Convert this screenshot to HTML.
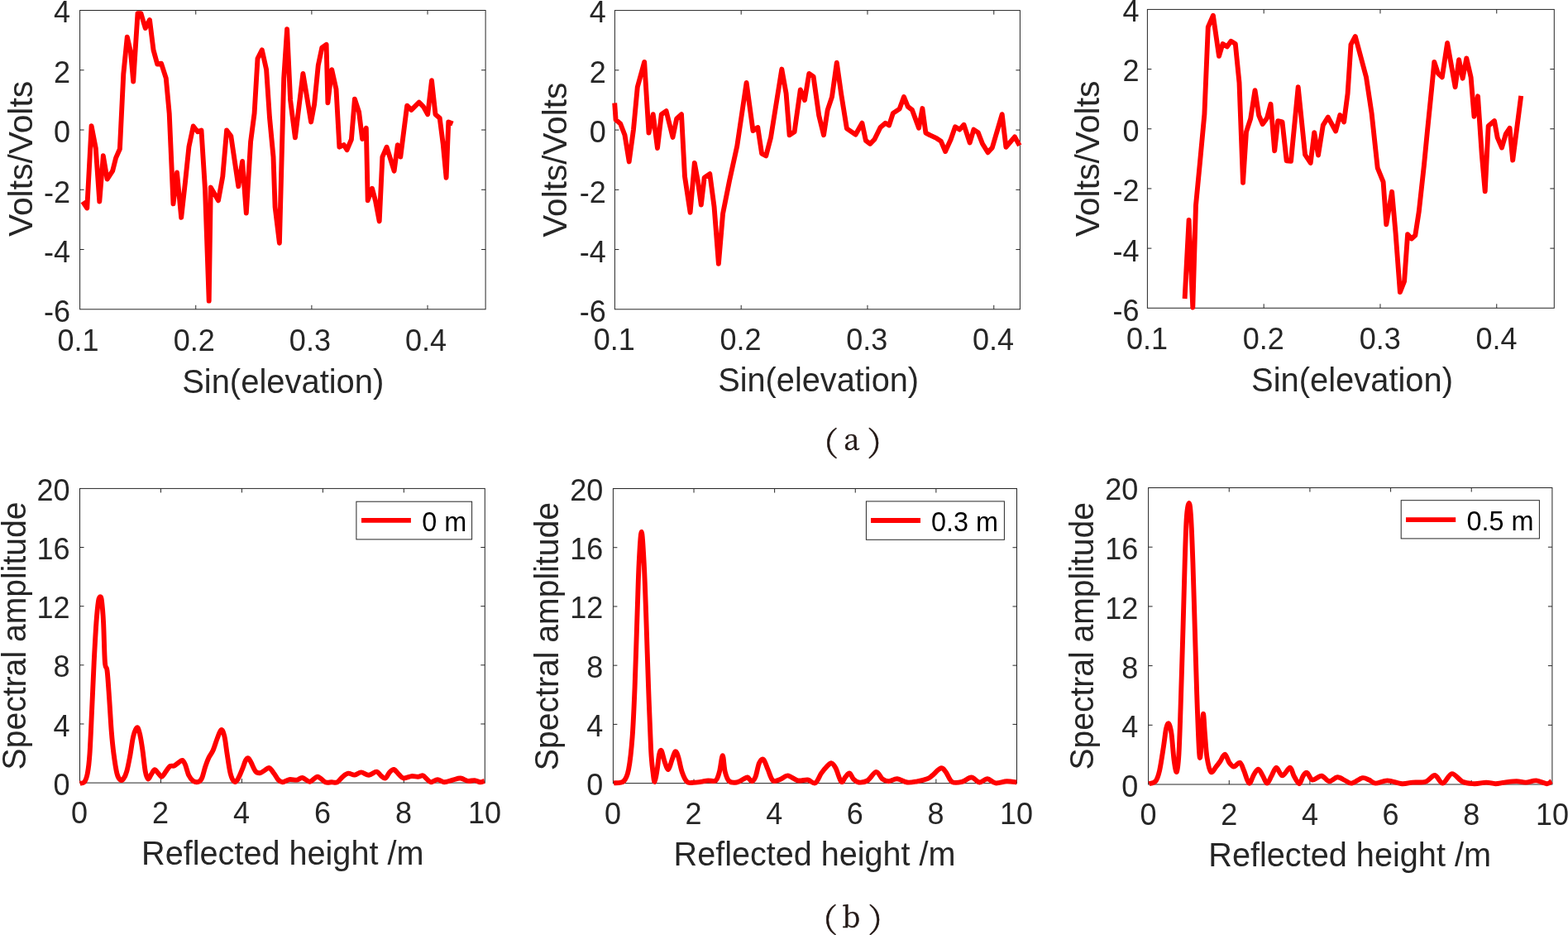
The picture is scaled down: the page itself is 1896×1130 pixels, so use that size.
<!DOCTYPE html>
<html><head><meta charset="utf-8"><title>Figure</title>
<style>
html,body{margin:0;padding:0;background:#fff;}
body{width:1896px;height:1130px;overflow:hidden;}
svg{display:block;}
text{font-family:"Liberation Sans",sans-serif;}
.tk{font-size:36px;fill:#262626;}
.lb{font-size:40px;fill:#262626;}
.lg{font-size:32.4px;fill:#000;}
.cap{font-family:"Liberation Serif","Noto Serif CJK SC",serif;fill:#231815;stroke:#231815;stroke-width:0.5px;}
.capl{font-family:"Noto Serif CJK SC","Liberation Serif",serif;}
</style></head><body>
<svg width="1896" height="1130" viewBox="0 0 1896 1130">
<rect width="1896" height="1130" fill="#fff"/>
<g>
<path d="M236.74 373.8V368.8M236.74 12.5V17.5M376.89 373.8V368.8M376.89 12.5V17.5M517.03 373.8V368.8M517.03 12.5V17.5M96.6 301.54H101.6M587.1 301.54H582.1M96.6 229.28H101.6M587.1 229.28H582.1M96.6 157.02H101.6M587.1 157.02H582.1M96.6 84.76H101.6M587.1 84.76H582.1" stroke="#262626" stroke-width="1" fill="none"/>
<rect x="96.6" y="12.5" width="490.5" height="361.3" fill="none" stroke="#262626" stroke-width="1"/>
<path d="M100 243.6 L105.3 251.5 L110.6 152.2 L115.8 179.1 L120.3 243.6 L124.8 188.3 L129.6 216.5 L136.1 206.7 L140.1 190.9 L144.9 180 L149.3 89.4 L153.8 44.6 L158 63 L161.2 98.6 L166.5 16.1 L170.4 16.1 L175.7 34 L181 24 L185.5 60.4 L190.2 77.5 L195 76.7 L200.8 94.7 L204.7 136.9 L209.5 246.3 L214 208.5 L219.2 262.9 L224 220 L228.4 177.7 L233.7 152.5 L239 159.3 L243.5 157.6 L248 229 L252.7 363.6 L254.8 226.5 L264 242.3 L269.3 213.3 L274.1 157.4 L279.3 164.5 L288.3 225.2 L293.1 194.9 L297.8 257.6 L303.1 171.1 L307.6 136.9 L311.5 70.9 L316.8 60.4 L322.1 84.1 L326 142.1 L330.5 189.6 L332.6 250.2 L337.9 293.7 L343.2 94.7 L347.1 35.3 L351.1 121 L356.9 166.4 L366.4 88.9 L370.9 115.8 L376.1 147.4 L380.1 126.3 L384.8 78.8 L389.3 57.7 L394.6 53.8 L396.4 124.2 L401.2 84.1 L406.5 107.8 L410.4 177.7 L415.7 175.1 L419.6 181.2 L424.9 168.5 L428.9 119.7 L434.1 135.5 L438.1 168 L442.8 154.8 L444.7 242.3 L450 227.8 L453.9 242.3 L458.7 267.4 L462.4 189.6 L467.6 177.7 L476.6 206.7 L480.8 175.1 L484.3 189.6 L492.2 127.6 L497.4 132.9 L506.7 123.7 L511.9 128.9 L517.2 138.2 L522 97.3 L526.5 138.2 L531.7 142.7 L535.7 173.8 L539.6 214.7 L542.3 147.4 L547.5 149.5" stroke="#ff0000" stroke-width="5.9" fill="none" stroke-linejoin="round" stroke-linecap="butt"/>
<text class="tk" x="94.6" y="423.9" text-anchor="middle">0.1</text>
<text class="tk" x="234.74" y="423.9" text-anchor="middle">0.2</text>
<text class="tk" x="374.89" y="423.9" text-anchor="middle">0.3</text>
<text class="tk" x="515.03" y="423.9" text-anchor="middle">0.4</text>
<text class="tk" x="85.1" y="389.45" text-anchor="end">-6</text>
<text class="tk" x="85.1" y="316.98" text-anchor="end">-4</text>
<text class="tk" x="85.1" y="244.51" text-anchor="end">-2</text>
<text class="tk" x="85.1" y="172.04" text-anchor="end">0</text>
<text class="tk" x="85.1" y="99.57" text-anchor="end">2</text>
<text class="tk" x="85.1" y="27.1" text-anchor="end">4</text>
<text id="xl1" class="lb" x="342.25" y="474.5" text-anchor="middle" textLength="244.17" lengthAdjust="spacingAndGlyphs">Sin(elevation)</text>
<text id="yl1" class="lb" x="0" y="0" text-anchor="middle" transform="translate(39.2 191.95) rotate(-90)" textLength="188.21" lengthAdjust="spacingAndGlyphs">Volts/Volts</text>
</g>
<g>
<path d="M896.19 373.8V368.8M896.19 12.6V17.6M1048.98 373.8V368.8M1048.98 12.6V17.6M1201.77 373.8V368.8M1201.77 12.6V17.6M743.4 301.56H748.4M1233.4 301.56H1228.4M743.4 229.32H748.4M1233.4 229.32H1228.4M743.4 157.08H748.4M1233.4 157.08H1228.4M743.4 84.84H748.4M1233.4 84.84H1228.4" stroke="#262626" stroke-width="1" fill="none"/>
<rect x="743.4" y="12.6" width="490" height="361.2" fill="none" stroke="#262626" stroke-width="1"/>
<path d="M743.2 124.5 L744.6 144.8 L750.2 149.5 L755.5 163.2 L760.7 195.4 L766 156.6 L770.8 105.2 L779.2 74.9 L784.5 160.6 L789.7 138.2 L795 179 L799.8 138.2 L805.6 134.2 L813.5 165.9 L818.2 143.4 L824 138.2 L828 213.3 L834.6 256.8 L839.8 196.9 L843.8 218.6 L847.8 247.6 L851.7 214.6 L858.3 210.1 L863.6 250.2 L868.9 318.8 L874.1 258.1 L882 218.6 L891.3 176.4 L902.6 99.9 L910.5 158 L916.3 154 L921.1 185.6 L926.3 188.3 L932.1 165.9 L945.3 83.6 L950.6 113.1 L954.6 163.2 L960.6 159.3 L967.8 108.4 L973 121 L978.3 88.9 L983.6 92.6 L990.2 139.5 L996 163.2 L1000.7 132.9 L1006 117.1 L1011.8 75.7 L1017.1 113.1 L1023.9 155.3 L1034.5 162.7 L1042.4 148.7 L1046.9 169.8 L1052.1 173.8 L1057.4 168.5 L1064.5 154 L1070.6 148.7 L1075.1 151.4 L1079.8 136.9 L1087.7 131.6 L1093 117.1 L1097.8 128.9 L1103 132.9 L1111 154.8 L1115.4 131.1 L1119.4 160.6 L1124.1 163.2 L1132.6 167.2 L1137.8 170.6 L1143.1 183 L1149.7 168.5 L1155 153.2 L1160.3 156.6 L1165.5 150.8 L1172.7 172.5 L1177.4 156.6 L1182.7 160.1 L1188 173.8 L1194.5 184.3 L1199.8 178.5 L1211.7 138.2 L1216.4 177.7 L1220.9 172.5 L1227 165.3 L1232.8 175.9" stroke="#ff0000" stroke-width="5.9" fill="none" stroke-linejoin="round" stroke-linecap="butt"/>
<text class="tk" x="742.7" y="423.4" text-anchor="middle">0.1</text>
<text class="tk" x="895.49" y="423.4" text-anchor="middle">0.2</text>
<text class="tk" x="1048.28" y="423.4" text-anchor="middle">0.3</text>
<text class="tk" x="1201.07" y="423.4" text-anchor="middle">0.4</text>
<text class="tk" x="732.8" y="389.45" text-anchor="end">-6</text>
<text class="tk" x="732.8" y="316.98" text-anchor="end">-4</text>
<text class="tk" x="732.8" y="244.51" text-anchor="end">-2</text>
<text class="tk" x="732.8" y="172.04" text-anchor="end">0</text>
<text class="tk" x="732.8" y="99.57" text-anchor="end">2</text>
<text class="tk" x="732.8" y="27.1" text-anchor="end">4</text>
<text id="xl2" class="lb" x="989.6" y="473.4" text-anchor="middle" textLength="242.94" lengthAdjust="spacingAndGlyphs">Sin(elevation)</text>
<text id="yl2" class="lb" x="0" y="0" text-anchor="middle" transform="translate(685.1 193.2) rotate(-90)" textLength="187" lengthAdjust="spacingAndGlyphs">Volts/Volts</text>
</g>
<g>
<path d="M1528.18 372.3V367.3M1528.18 11.4V16.4M1668.97 372.3V367.3M1668.97 11.4V16.4M1809.75 372.3V367.3M1809.75 11.4V16.4M1387.4 300.12H1392.4M1879.3 300.12H1874.3M1387.4 227.94H1392.4M1879.3 227.94H1874.3M1387.4 155.76H1392.4M1879.3 155.76H1874.3M1387.4 83.58H1392.4M1879.3 83.58H1874.3" stroke="#262626" stroke-width="1" fill="none"/>
<rect x="1387.4" y="11.4" width="491.9" height="360.9" fill="none" stroke="#262626" stroke-width="1"/>
<path d="M1432.6 361 L1437.6 266 L1442.3 371.5 L1446 248 L1451 196 L1456.4 138 L1460.8 32.7 L1466.9 18.7 L1474 67.8 L1478.5 53 L1483.7 56.4 L1488.5 49.8 L1493.8 53 L1498.5 99.9 L1503 220.7 L1507 159.3 L1512.2 143.4 L1517.5 109.2 L1522.2 139.5 L1526.7 150 L1532 142.7 L1536.5 125.8 L1541.2 182.2 L1545.2 146.1 L1550.5 147.4 L1555.7 194.3 L1561 194.9 L1569.7 105.2 L1578.1 187 L1584.7 197 L1589.2 160.1 L1594 187.5 L1599.8 151.4 L1605.8 141.6 L1615.1 158.5 L1620.3 139 L1625.1 147.4 L1629.6 113.1 L1633.5 53.8 L1638.8 44 L1652 93.3 L1658.6 136.9 L1665.7 202.8 L1672.6 219.9 L1676.3 271.3 L1683.1 231.8 L1687.6 281.9 L1692.9 353.1 L1698.1 339.9 L1702.1 283.2 L1706.8 288.4 L1711.3 284.5 L1715.8 255.5 L1721.9 200 L1725.8 160 L1731.1 107.8 L1734.3 74.9 L1739 88.9 L1743.8 93.3 L1750.1 51.9 L1759.6 105.2 L1764.1 72.2 L1768.6 94.7 L1773.3 70.4 L1778.6 93.3 L1782.5 140.8 L1787 116.3 L1791.8 187 L1795.7 231.3 L1799.7 152.2 L1807 146.1 L1810.7 166.4 L1816 178.5 L1820.8 161.9 L1825.5 154.8 L1829.2 193.6 L1839.2 115.8" stroke="#ff0000" stroke-width="5.9" fill="none" stroke-linejoin="round" stroke-linecap="butt"/>
<text class="tk" x="1387.1" y="422.2" text-anchor="middle">0.1</text>
<text class="tk" x="1527.88" y="422.2" text-anchor="middle">0.2</text>
<text class="tk" x="1668.67" y="422.2" text-anchor="middle">0.3</text>
<text class="tk" x="1809.45" y="422.2" text-anchor="middle">0.4</text>
<text class="tk" x="1377.5" y="388.25" text-anchor="end">-6</text>
<text class="tk" x="1377.5" y="315.72" text-anchor="end">-4</text>
<text class="tk" x="1377.5" y="243.19" text-anchor="end">-2</text>
<text class="tk" x="1377.5" y="170.66" text-anchor="end">0</text>
<text class="tk" x="1377.5" y="98.13" text-anchor="end">2</text>
<text class="tk" x="1377.5" y="25.6" text-anchor="end">4</text>
<text id="xl3" class="lb" x="1635.05" y="472.9" text-anchor="middle" textLength="243.96" lengthAdjust="spacingAndGlyphs">Sin(elevation)</text>
<text id="yl3" class="lb" x="0" y="0" text-anchor="middle" transform="translate(1328.9 191.85) rotate(-90)" textLength="188.6" lengthAdjust="spacingAndGlyphs">Volts/Volts</text>
</g>
<g>
<path d="M194.46 946.1V941.1M194.46 590.4V595.4M292.42 946.1V941.1M292.42 590.4V595.4M390.38 946.1V941.1M390.38 590.4V595.4M488.34 946.1V941.1M488.34 590.4V595.4M96.5 874.96H101.5M586.3 874.96H581.3M96.5 803.82H101.5M586.3 803.82H581.3M96.5 732.68H101.5M586.3 732.68H581.3M96.5 661.54H101.5M586.3 661.54H581.3" stroke="#262626" stroke-width="1" fill="none"/>
<rect x="96.5" y="590.4" width="489.8" height="355.7" fill="none" stroke="#262626" stroke-width="1"/>
<path d="M96.6 946.6 C97.48 946.38 100.37 947.28 101.9 945.3 C103.43 943.32 104.7 940.42 105.8 934.7 C106.9 928.98 107.62 923.75 108.5 911 C109.38 898.25 110.23 876.67 111.1 858.2 C111.97 839.73 112.82 817.78 113.7 800.2 C114.58 782.62 115.52 765 116.4 752.7 C117.28 740.4 118.22 731.67 119 726.4 C119.78 721.13 120.43 721.1 121.1 721.1 C121.77 721.1 122.33 721.13 123 726.4 C123.67 731.67 124.45 740.4 125.1 752.7 C125.75 765 126.15 790.52 126.9 800.2 C127.65 809.88 128.72 803.33 129.6 810.8 C130.48 818.27 131.33 832.7 132.2 845 C133.07 857.3 133.92 873.6 134.8 884.6 C135.68 895.6 136.4 902.65 137.5 911 C138.6 919.35 140.08 929.43 141.4 934.7 C142.72 939.97 144.08 941.5 145.4 942.6 C146.72 943.7 147.98 943.05 149.3 941.3 C150.62 939.55 151.98 936.72 153.3 932.1 C154.62 927.48 155.88 920.63 157.2 913.6 C158.52 906.57 159.78 895.62 161.2 889.9 C162.62 884.18 164.38 879.75 165.7 879.3 C167.02 878.85 168 882.8 169.1 887.2 C170.2 891.6 171.2 898.22 172.3 905.7 C173.4 913.18 174.57 926.17 175.7 932.1 C176.83 938.03 177.92 940.65 179.1 941.3 C180.28 941.95 181.48 937.85 182.8 936 C184.12 934.15 185.55 930.42 187 930.2 C188.45 929.98 190.08 933.28 191.5 934.7 C192.92 936.12 193.95 939.13 195.5 938.7 C197.05 938.27 199.13 934.22 200.8 932.1 C202.47 929.98 203.83 927.1 205.5 926 C207.17 924.9 209.03 926.25 210.8 925.5 C212.57 924.75 214.48 922.6 216.1 921.5 C217.72 920.4 219.18 918.45 220.5 918.9 C221.82 919.35 222.68 921.13 224 924.2 C225.32 927.27 226.78 934.02 228.4 937.3 C230.02 940.58 231.72 942.67 233.7 943.9 C235.68 945.13 238.53 945.35 240.3 944.7 C242.07 944.05 242.98 942.98 244.3 940 C245.62 937.02 246.88 930.77 248.2 926.8 C249.52 922.83 250.65 919.5 252.2 916.2 C253.75 912.9 255.75 910.95 257.5 907 C259.25 903.05 261.03 896.67 262.7 892.5 C264.37 888.33 266.05 882.43 267.5 882 C268.95 881.57 270.22 885.07 271.4 889.9 C272.58 894.73 273.4 903.53 274.6 911 C275.8 918.47 277.15 929.08 278.6 934.7 C280.05 940.32 281.77 943.6 283.3 944.7 C284.83 945.8 286.17 943.85 287.8 941.3 C289.43 938.75 291.57 933.13 293.1 929.4 C294.63 925.67 295.82 921.1 297 918.9 C298.18 916.7 299.1 915.77 300.2 916.2 C301.3 916.63 302.15 918.85 303.6 921.5 C305.05 924.15 307.13 929.98 308.9 932.1 C310.67 934.22 312.45 934.3 314.2 934.2 C315.95 934.1 317.52 932.52 319.4 931.5 C321.28 930.48 323.52 927.57 325.5 928.1 C327.48 928.63 329.45 932.28 331.3 934.7 C333.15 937.12 334.85 940.83 336.6 942.6 C338.35 944.37 339.6 945.38 341.8 945.3 C344 945.22 346.93 942.55 349.8 942.1 C352.67 941.65 356.37 942.95 359 942.6 C361.63 942.25 362.97 939.65 365.6 940 C368.23 940.35 371.73 944.92 374.8 944.7 C377.87 944.48 380.92 938.6 384 938.7 C387.08 938.8 390.43 944.2 393.3 945.3 C396.17 946.4 398.78 945.3 401.2 945.3 C403.62 945.3 405.6 946.4 407.8 945.3 C410 944.2 412.2 940.47 414.4 938.7 C416.6 936.93 418.58 935.05 421 934.7 C423.42 934.35 426.27 936.82 428.9 936.6 C431.53 936.38 433.95 933.37 436.8 933.4 C439.65 933.43 442.93 936.93 446 936.8 C449.07 936.67 452.78 932.52 455.2 932.6 C457.62 932.68 458.73 935.98 460.5 937.3 C462.27 938.62 464.03 941.15 465.8 940.5 C467.57 939.85 469.35 935.15 471.1 933.4 C472.85 931.65 474.42 929.57 476.3 930 C478.18 930.43 480.42 934.25 482.4 936 C484.38 937.75 485.7 940.15 488.2 940.5 C490.7 940.85 494.55 938.4 497.4 938.1 C500.25 937.8 502.97 938.83 505.3 938.7 C507.63 938.57 509.63 936.87 511.4 937.3 C513.17 937.73 514.27 939.97 515.9 941.3 C517.53 942.63 519 945.17 521.2 945.3 C523.4 945.43 526.47 942.1 529.1 942.1 C531.73 942.1 533.93 945.22 537 945.3 C540.07 945.38 544.2 943.4 547.5 942.6 C550.8 941.8 553.72 940.28 556.8 940.5 C559.88 940.72 563.15 943.47 566 943.9 C568.85 944.33 571.48 942.87 573.9 943.1 C576.32 943.33 578.52 945.17 580.5 945.3 C582.48 945.43 584.92 944.13 585.8 943.9" stroke="#ff0000" stroke-width="5.9" fill="none" stroke-linejoin="round" stroke-linecap="butt"/>
<text class="tk" x="96.1" y="994.6" text-anchor="middle">0</text>
<text class="tk" x="194.06" y="994.6" text-anchor="middle">2</text>
<text class="tk" x="292.02" y="994.6" text-anchor="middle">4</text>
<text class="tk" x="389.98" y="994.6" text-anchor="middle">6</text>
<text class="tk" x="487.94" y="994.6" text-anchor="middle">8</text>
<text class="tk" x="585.9" y="994.6" text-anchor="middle">10</text>
<text class="tk" x="84.6" y="960.75" text-anchor="end">0</text>
<text class="tk" x="84.6" y="889.62" text-anchor="end">4</text>
<text class="tk" x="84.6" y="818.49" text-anchor="end">8</text>
<text class="tk" x="84.6" y="747.36" text-anchor="end">12</text>
<text class="tk" x="84.6" y="676.23" text-anchor="end">16</text>
<text class="tk" x="84.6" y="605.1" text-anchor="end">20</text>
<text id="xl4" class="lb" x="341.8" y="1045.4" text-anchor="middle" textLength="341.39" lengthAdjust="spacingAndGlyphs">Reflected height /m</text>
<text id="yl4" class="lb" x="0" y="0" text-anchor="middle" transform="translate(30.6 768.45) rotate(-90)" textLength="324.03" lengthAdjust="spacingAndGlyphs">Spectral amplitude</text>
<rect x="430.9" y="606.2" width="139.7" height="45.7" fill="#fff" stroke="#262626" stroke-width="1"/>
<path d="M437 628.9H496.9" stroke="#ff0000" stroke-width="5.9"/>
<text class="lg" x="564.2" y="642.3" text-anchor="end">0 m</text>
</g>
<g>
<path d="M839.02 946.6V941.6M839.02 590.5V595.5M936.64 946.6V941.6M936.64 590.5V595.5M1034.26 946.6V941.6M1034.26 590.5V595.5M1131.88 946.6V941.6M1131.88 590.5V595.5M741.4 875.38H746.4M1229.5 875.38H1224.5M741.4 804.16H746.4M1229.5 804.16H1224.5M741.4 732.94H746.4M1229.5 732.94H1224.5M741.4 661.72H746.4M1229.5 661.72H1224.5" stroke="#262626" stroke-width="1" fill="none"/>
<rect x="741.4" y="590.5" width="488.1" height="356.1" fill="none" stroke="#262626" stroke-width="1"/>
<path d="M742 946.4 C744 946.05 750.98 947.05 754 944.3 C757.02 941.55 758.33 938.82 760.1 929.9 C761.87 920.98 763.35 907.35 764.6 890.8 C765.85 874.25 766.6 855.68 767.6 830.6 C768.6 805.52 769.75 765.37 770.6 740.3 C771.45 715.23 771.85 696.48 772.7 680.2 C773.55 663.92 774.7 642.6 775.7 642.6 C776.7 642.6 777.8 663.92 778.7 680.2 C779.6 696.48 780.2 715.23 781.1 740.3 C782 765.37 783.1 803.02 784.1 830.6 C785.1 858.18 786.2 888.75 787.1 905.8 C788 922.85 788.73 926.38 789.5 932.9 C790.27 939.42 790.83 945.4 791.7 944.9 C792.57 944.4 793.8 935.42 794.7 929.9 C795.6 924.38 796.25 915.57 797.1 911.8 C797.95 908.03 798.7 905.8 799.8 907.3 C800.9 908.8 802.3 917.03 803.7 920.8 C805.1 924.57 806.7 930.4 808.2 929.9 C809.7 929.4 811.3 921.42 812.7 917.8 C814.1 914.18 815.35 908.7 816.6 908.2 C817.85 907.7 818.85 910.68 820.2 914.8 C821.55 918.92 822.93 927.88 824.7 932.9 C826.47 937.92 828.53 942.75 830.8 944.9 C833.07 947.05 835.55 945.8 838.3 945.8 C841.05 945.8 844.3 945.3 847.3 944.9 C850.3 944.5 853.28 943.65 856.3 943.4 C859.32 943.15 863.13 945.15 865.4 943.4 C867.67 941.65 868.5 937.92 869.9 932.9 C871.3 927.88 872.65 913.3 873.8 913.3 C874.95 913.3 875.45 927.73 876.8 932.9 C878.15 938.07 879.55 942.2 881.9 944.3 C884.25 946.4 888.13 945.9 890.9 945.5 C893.67 945.1 896.33 942.9 898.5 941.9 C900.67 940.9 902.15 939.1 903.9 939.5 C905.65 939.9 907.4 944.4 909 944.3 C910.6 944.2 912 942.57 913.5 938.9 C915 935.23 916.4 925.82 918 922.3 C919.6 918.78 921.35 916.53 923.1 917.8 C924.85 919.07 926.58 925.63 928.5 929.9 C930.42 934.17 932.08 941.4 934.6 943.4 C937.12 945.4 940.6 942.9 943.6 941.9 C946.6 940.9 949.1 937.15 952.6 937.4 C956.1 937.65 960.58 942.55 964.6 943.4 C968.62 944.25 973.18 942 976.7 942.5 C980.22 943 982.95 947.75 985.7 946.4 C988.45 945.05 990.85 937.75 993.2 934.4 C995.55 931.05 997.77 928.32 999.8 926.3 C1001.83 924.28 1003.6 921.95 1005.4 922.3 C1007.2 922.65 1008.63 924.65 1010.6 928.4 C1012.57 932.15 1015.23 943.05 1017.2 944.8 C1019.17 946.55 1020.72 940.6 1022.4 938.9 C1024.08 937.2 1025.65 934.1 1027.3 934.6 C1028.95 935.1 1030.47 940.08 1032.3 941.9 C1034.13 943.72 1035.53 945.25 1038.3 945.5 C1041.07 945.75 1045.38 945.5 1048.9 943.4 C1052.42 941.3 1056.4 933.25 1059.4 932.9 C1062.4 932.55 1064.4 939.4 1066.9 941.3 C1069.4 943.2 1071.4 944.3 1074.4 944.3 C1077.4 944.3 1081.13 941.1 1084.9 941.3 C1088.67 941.5 1092.98 945 1097 945.5 C1101.02 946 1104.98 945 1109 944.3 C1113.02 943.6 1118.08 942.45 1121.1 941.3 C1124.12 940.15 1124.35 939.55 1127.1 937.4 C1129.85 935.25 1134.85 929.15 1137.6 928.4 C1140.35 927.65 1141.33 930.15 1143.6 932.9 C1145.87 935.65 1147.93 942.9 1151.2 944.9 C1154.47 946.9 1159.3 945.8 1163.2 944.9 C1167.1 944 1171.08 939.4 1174.6 939.5 C1178.12 939.6 1181.08 945.2 1184.3 945.5 C1187.52 945.8 1190.65 941.15 1193.9 941.3 C1197.15 941.45 1199.9 945.9 1203.8 946.4 C1207.7 946.9 1213.03 944.45 1217.3 944.3 C1221.57 944.15 1227.38 945.3 1229.4 945.5" stroke="#ff0000" stroke-width="5.9" fill="none" stroke-linejoin="round" stroke-linecap="butt"/>
<text class="tk" x="741" y="996.2" text-anchor="middle">0</text>
<text class="tk" x="838.62" y="996.2" text-anchor="middle">2</text>
<text class="tk" x="936.24" y="996.2" text-anchor="middle">4</text>
<text class="tk" x="1033.86" y="996.2" text-anchor="middle">6</text>
<text class="tk" x="1131.48" y="996.2" text-anchor="middle">8</text>
<text class="tk" x="1229.1" y="996.2" text-anchor="middle">10</text>
<text class="tk" x="729.4" y="961.1" text-anchor="end">0</text>
<text class="tk" x="729.4" y="889.88" text-anchor="end">4</text>
<text class="tk" x="729.4" y="818.66" text-anchor="end">8</text>
<text class="tk" x="729.4" y="747.44" text-anchor="end">12</text>
<text class="tk" x="729.4" y="676.22" text-anchor="end">16</text>
<text class="tk" x="729.4" y="605" text-anchor="end">20</text>
<text id="xl5" class="lb" x="985.05" y="1045.8" text-anchor="middle" textLength="340.97" lengthAdjust="spacingAndGlyphs">Reflected height /m</text>
<text id="yl5" class="lb" x="0" y="0" text-anchor="middle" transform="translate(675.1 769.05) rotate(-90)" textLength="324.2" lengthAdjust="spacingAndGlyphs">Spectral amplitude</text>
<rect x="1047.4" y="605.9" width="167" height="46.4" fill="#fff" stroke="#262626" stroke-width="1"/>
<path d="M1053 629H1113" stroke="#ff0000" stroke-width="5.9"/>
<text class="lg" x="1207.1" y="642.4" text-anchor="end">0.3 m</text>
</g>
<g>
<path d="M1486.26 948V943M1486.26 589.5V594.5M1583.92 948V943M1583.92 589.5V594.5M1681.58 948V943M1681.58 589.5V594.5M1779.24 948V943M1779.24 589.5V594.5M1388.6 876.3H1393.6M1876.9 876.3H1871.9M1388.6 804.6H1393.6M1876.9 804.6H1871.9M1388.6 732.9H1393.6M1876.9 732.9H1871.9M1388.6 661.2H1393.6M1876.9 661.2H1871.9" stroke="#262626" stroke-width="1" fill="none"/>
<rect x="1388.6" y="589.5" width="488.3" height="358.5" fill="none" stroke="#262626" stroke-width="1"/>
<path d="M1389.4 947.2 C1390.72 946.68 1395.18 946.75 1397.3 944.1 C1399.42 941.45 1400.5 938.22 1402.1 931.3 C1403.7 924.38 1405.57 911.1 1406.9 902.6 C1408.23 894.1 1409.03 884.97 1410.1 880.3 C1411.17 875.63 1412.23 873.53 1413.3 874.6 C1414.37 875.67 1415.45 879.37 1416.5 886.7 C1417.55 894.03 1418.55 910.9 1419.6 918.6 C1420.65 926.3 1421.83 933.97 1422.8 932.9 C1423.77 931.83 1424.6 925.2 1425.4 912.2 C1426.2 899.2 1426.75 880.38 1427.6 854.9 C1428.45 829.42 1429.65 788.52 1430.5 759.3 C1431.35 730.08 1431.98 701.9 1432.7 679.6 C1433.42 657.3 1433.95 637.43 1434.8 625.5 C1435.65 613.57 1436.92 608 1437.8 608 C1438.68 608 1439.33 613.57 1440.1 625.5 C1440.87 637.43 1441.62 657.3 1442.4 679.6 C1443.18 701.9 1444 732.75 1444.8 759.3 C1445.6 785.85 1446.35 814.48 1447.2 838.9 C1448.05 863.32 1449.18 893.32 1449.9 905.8 C1450.62 918.28 1450.97 916.98 1451.5 913.8 C1452.03 910.62 1452.52 895.2 1453.1 886.7 C1453.68 878.2 1454.37 862.8 1455 862.8 C1455.63 862.8 1456.15 877.93 1456.9 886.7 C1457.65 895.47 1458.28 907.7 1459.5 915.4 C1460.72 923.1 1462.35 931.05 1464.2 932.9 C1466.05 934.75 1468.73 928.62 1470.6 926.5 C1472.47 924.38 1473.65 922.68 1475.4 920.2 C1477.15 917.72 1479.25 911.33 1481.1 911.6 C1482.95 911.87 1484.7 919.32 1486.5 921.8 C1488.3 924.28 1489.77 926.5 1491.9 926.5 C1494.03 926.5 1497.27 921 1499.3 921.8 C1501.33 922.6 1502.25 927.17 1504.1 931.3 C1505.95 935.43 1508.38 945.8 1510.4 946.6 C1512.42 947.4 1514.33 938.92 1516.2 936.1 C1518.07 933.28 1519.8 929.43 1521.6 929.7 C1523.4 929.97 1525.25 934.88 1527 937.7 C1528.75 940.52 1530.35 946.6 1532.1 946.6 C1533.85 946.6 1535.62 940.83 1537.5 937.7 C1539.38 934.57 1541.22 927.85 1543.4 927.8 C1545.58 927.75 1547.87 937.4 1550.6 937.4 C1553.33 937.4 1557.47 927.75 1559.8 927.8 C1562.13 927.85 1562.73 934.47 1564.6 937.7 C1566.47 940.93 1569.15 947.2 1571 947.2 C1572.85 947.2 1574.12 939.92 1575.7 937.7 C1577.28 935.48 1578.63 933.1 1580.5 933.9 C1582.37 934.7 1583.98 941.87 1586.9 942.5 C1589.82 943.13 1594.62 937.42 1598 937.7 C1601.38 937.98 1604 943.93 1607.2 944.2 C1610.4 944.47 1613.95 939.43 1617.2 939.3 C1620.45 939.17 1623.78 942.18 1626.7 943.4 C1629.62 944.62 1631.25 947.13 1634.7 946.6 C1638.15 946.07 1643.95 940.88 1647.4 940.2 C1650.85 939.52 1652.75 941.43 1655.4 942.5 C1658.05 943.57 1659.58 946.45 1663.3 946.6 C1667.02 946.75 1672.38 943.3 1677.7 943.4 C1683.02 943.5 1690.15 946.83 1695.2 947.2 C1700.25 947.57 1703.22 946.02 1708 945.6 C1712.78 945.18 1719.4 946.13 1723.9 944.7 C1728.4 943.27 1731.55 936.68 1735 937 C1738.45 937.32 1741.15 946.92 1744.6 946.6 C1748.05 946.28 1751.72 935.42 1755.7 935.1 C1759.68 934.78 1763.98 942.68 1768.5 944.7 C1773.02 946.72 1778.03 947.05 1782.8 947.2 C1787.57 947.35 1792.85 945.6 1797.1 945.6 C1801.35 945.6 1804.58 947.2 1808.3 947.2 C1812.02 947.2 1815.15 946.12 1819.4 945.6 C1823.65 945.08 1829.55 944.1 1833.8 944.1 C1838.05 944.1 1840.92 945.72 1844.9 945.6 C1848.88 945.48 1853.45 943.13 1857.7 943.4 C1861.95 943.67 1867.33 947.08 1870.4 947.2 C1873.47 947.32 1875.15 944.62 1876.1 944.1" stroke="#ff0000" stroke-width="5.9" fill="none" stroke-linejoin="round" stroke-linecap="butt"/>
<text class="tk" x="1388.6" y="997.4" text-anchor="middle">0</text>
<text class="tk" x="1486.26" y="997.4" text-anchor="middle">2</text>
<text class="tk" x="1583.92" y="997.4" text-anchor="middle">4</text>
<text class="tk" x="1681.58" y="997.4" text-anchor="middle">6</text>
<text class="tk" x="1779.24" y="997.4" text-anchor="middle">8</text>
<text class="tk" x="1876.9" y="997.4" text-anchor="middle">10</text>
<text class="tk" x="1376.4" y="963.1" text-anchor="end">0</text>
<text class="tk" x="1376.4" y="891.36" text-anchor="end">4</text>
<text class="tk" x="1376.4" y="819.62" text-anchor="end">8</text>
<text class="tk" x="1376.4" y="747.88" text-anchor="end">12</text>
<text class="tk" x="1376.4" y="676.14" text-anchor="end">16</text>
<text class="tk" x="1376.4" y="604.4" text-anchor="end">20</text>
<text id="xl6" class="lb" x="1632.15" y="1046.9" text-anchor="middle" textLength="341.78" lengthAdjust="spacingAndGlyphs">Reflected height /m</text>
<text id="yl6" class="lb" x="0" y="0" text-anchor="middle" transform="translate(1321.8 768.85) rotate(-90)" textLength="323.4" lengthAdjust="spacingAndGlyphs">Spectral amplitude</text>
<rect x="1694.2" y="604.7" width="167.2" height="46.2" fill="#fff" stroke="#262626" stroke-width="1"/>
<path d="M1700 628.1H1760.2" stroke="#ff0000" stroke-width="5.9"/>
<text class="lg" x="1854.4" y="640.9" text-anchor="end">0.5 m</text>
</g>
<text class="cap" x="974.5" y="550.6" font-size="39.6">（</text>
<text class="cap capl" x="1020.3" y="544.2" font-size="34.7">a</text>
<text class="cap" x="1048.2" y="550.6" font-size="39.6">）</text>
<text class="cap" x="973.6" y="1127.4" font-size="39.6">（</text>
<text class="cap capl" x="1017.9" y="1120.8" font-size="34.7">b</text>
<text class="cap" x="1049.3" y="1127.4" font-size="39.6">）</text>
</svg>
</body></html>
